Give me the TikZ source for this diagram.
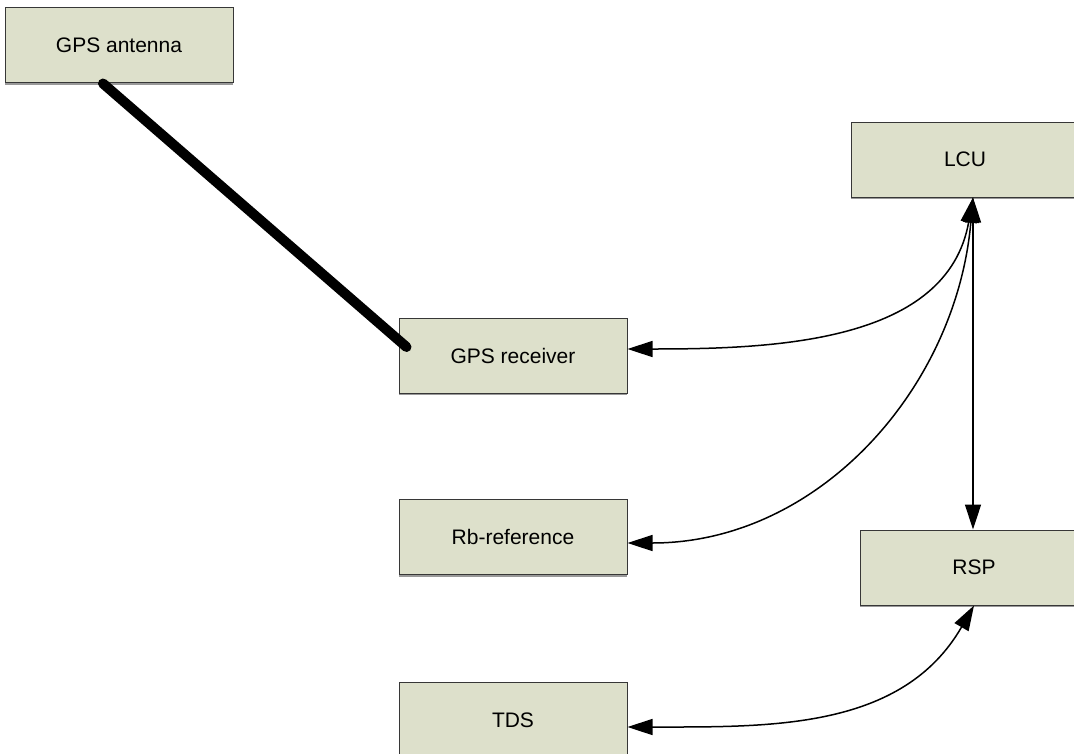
\documentclass[tikz,border=0pt]{standalone}
\usepackage{fontspec}
\setmainfont{Liberation Sans}
\usepackage{tikz}
\usetikzlibrary{arrows.meta,shadows}
\usepackage{xcolor}

\definecolor{boxfill}{RGB}{221,224,203}
\definecolor{boxline}{RGB}{55,55,55}

\tikzset{
  unit/.style={rectangle,draw=boxline,fill=boxfill,line width=1pt,
    minimum width=228pt,minimum height=75pt,inner sep=0pt,
    font=\fontsize{21}{25}\selectfont,
    drop shadow={shadow xshift=0pt,shadow yshift=-2pt,fill=gray,opacity=0.8}},
  link/.style={{Triangle[length=25pt,width=16pt]}-{Triangle[length=25pt,width=16pt]},line width=1.5pt},
}

\begin{document}
\begin{tikzpicture}[x=1pt,y=-1pt]
  \useasboundingbox (0,0) rectangle (1074,753);
  \node (ant) at (119,45) [unit] {GPS antenna};
  \node (rcv) at (513,355.5) [unit] {GPS receiver};
  \node (rb) at (513,537) [unit] {Rb-reference};
  \node (tds) at (513,720) [unit] {TDS};
  \node (lcu) at (965,159.5) [unit] {LCU};
  \node (rsp) at (974,567.5) [unit] {RSP};
  % antenna cable
  \draw[line width=10pt,line cap=round] ([xshift=-16pt,yshift=-0.5pt]ant.south) -- ([xshift=8pt,yshift=8.5pt]rcv.west);
  % control links
  \draw[link] ([xshift=8pt]lcu.south) to[out=-100,in=0] ([yshift=6.5pt]rcv.east);
  \draw[link] ([xshift=8pt]lcu.south) to[out=-95,in=0] ([yshift=-6pt]rb.east);
  \draw[link] ([xshift=8pt]lcu.south) -- ([xshift=-1pt]rsp.north);
  \draw[link] (rsp.south) to[out=-120,in=0] ([yshift=-7pt]tds.east);
\end{tikzpicture}
\end{document}
